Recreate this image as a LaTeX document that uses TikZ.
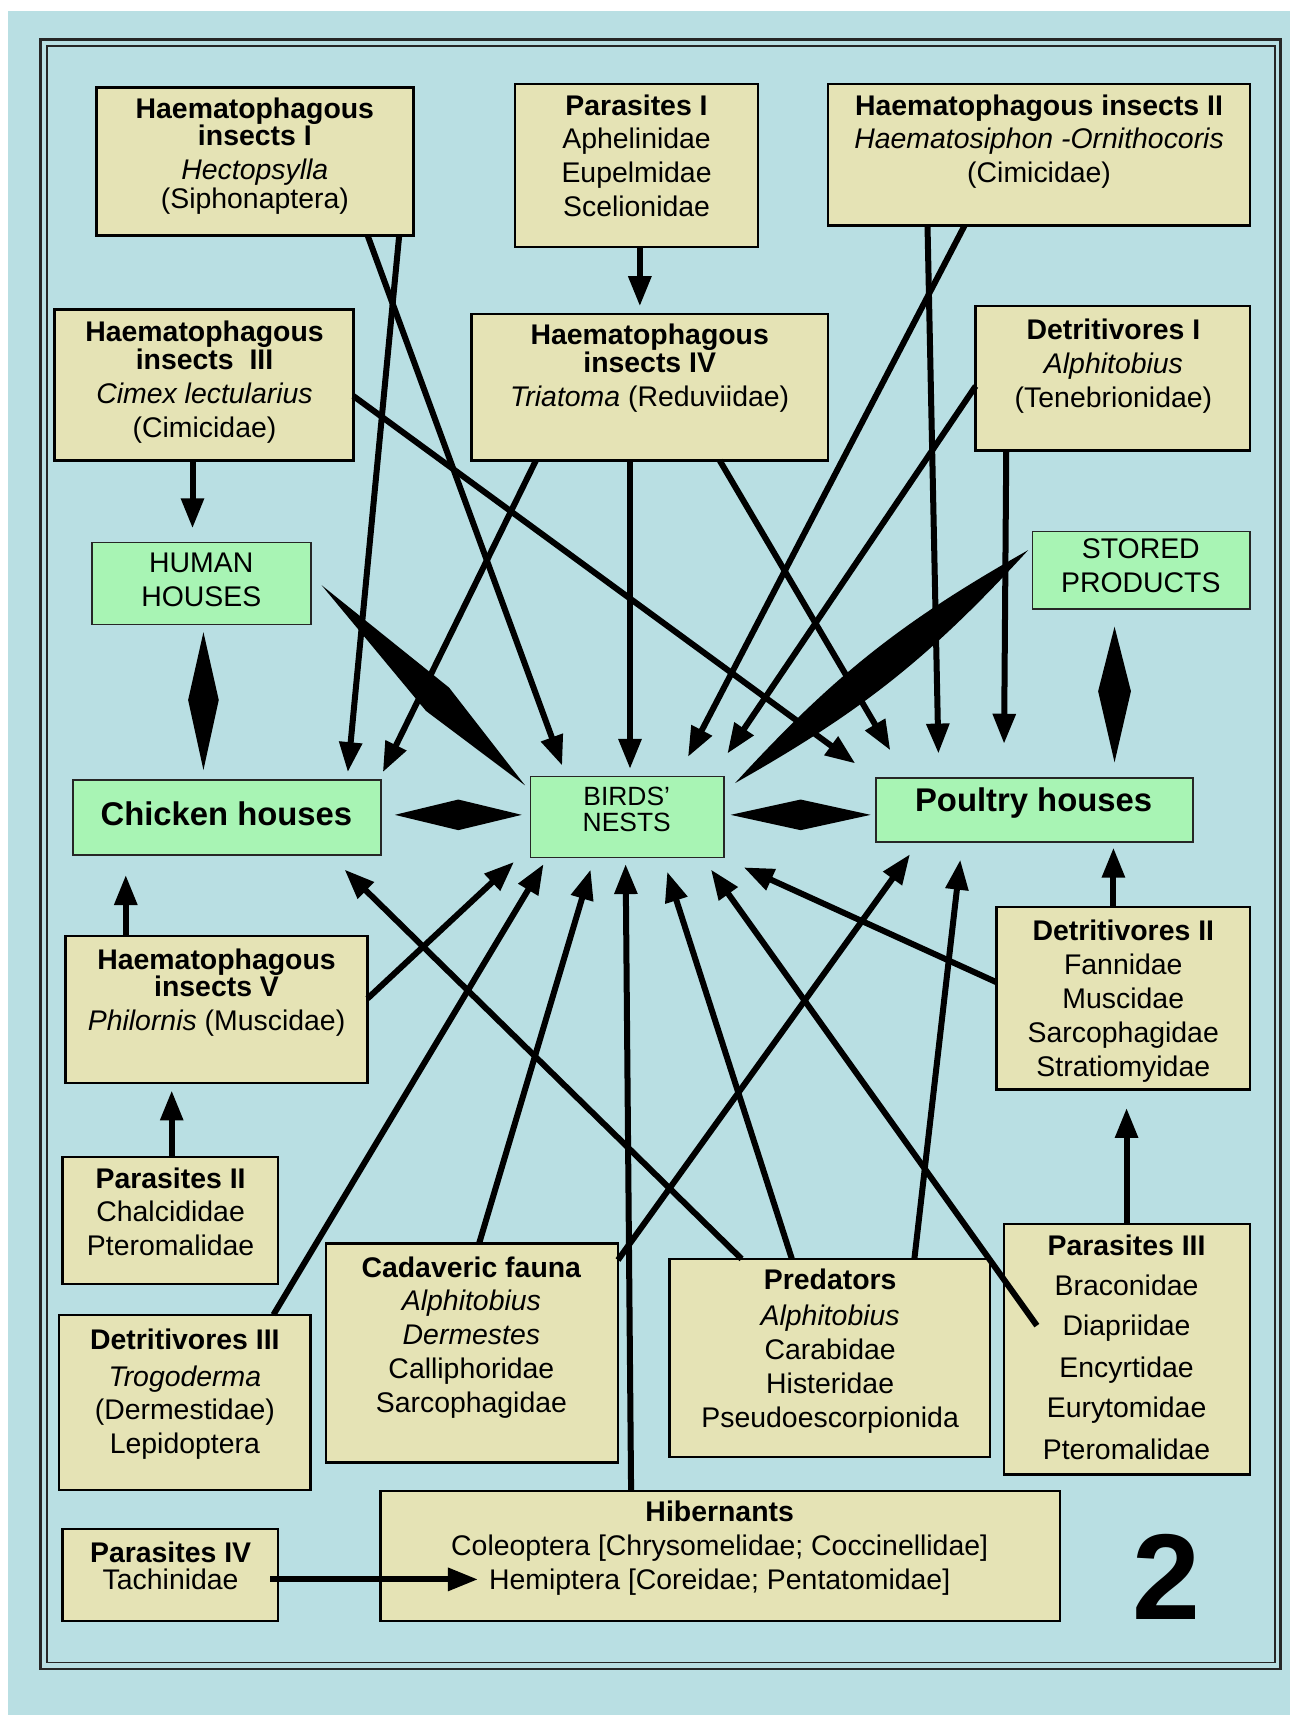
\documentclass[tikz,border=0pt]{standalone}
\usepackage{fontspec}
\setmainfont{Liberation Sans}
\usetikzlibrary{arrows.meta,calc}
\newdimen\pxu \pxu=0.54665pt
\definecolor{bgblue}{RGB}{185,223,227}
\definecolor{boxtan}{RGB}{229,227,181}
\definecolor{boxgreen}{RGB}{168,244,180}
\newcommand\mkbox[6]{\node[#6, minimum width={(#4-#2)*\pxu}, minimum height={(#5-#3)*\pxu}] (#1) at ({(#2+#4)/2},{(#3+#5)/2}) {};}
\begin{document}
\begin{tikzpicture}[x=0.54665pt,y=-0.54665pt,
  tbox/.style={draw=black, line width=1.2pt, fill=boxtan, inner sep=0pt, outer sep=0pt},
  gbox/.style={draw=black!85, line width=0.9pt, fill=boxgreen, inner sep=0pt, outer sep=0pt},
  txt/.style={anchor=north, align=center, inner sep=0pt, font=\fontsize{14.2pt}{16.95pt}\selectfont},
  conn/.style={line width=3pt, -{Triangle[length=15pt,width=11pt]}},
  spin/.style={fill=black}]
\useasboundingbox (0,0) rectangle (1179,1568);
\fill[white] (0,0) rectangle (1179,1568);
\fill[bgblue] (7,10) rectangle (1179,1568);
\draw[line width=1.4pt, black!85] (37,36) rectangle (1171,1526);
\draw[line width=0.9pt, black!85] (43,42) rectangle (1166,1520);

% boxes
\mkbox{hI}{88}{80}{378}{215}{tbox,line width=1.6pt}
\mkbox{pI}{471}{77}{693}{226}{tbox}
\mkbox{hII}{757}{77}{1143}{206}{tbox}
\mkbox{hIII}{50}{283}{323}{421}{tbox,line width=1.6pt}
\mkbox{hIV}{431}{287}{757}{421}{tbox}
\mkbox{dI}{892}{280}{1143}{412}{tbox}
\mkbox{HH}{84}{496}{284}{571}{gbox}
\mkbox{SP}{944}{486}{1143}{557}{gbox}
\mkbox{CH}{67}{713}{348}{782}{gbox}
\mkbox{BN}{485}{710}{662}{784}{gbox}
\mkbox{PH}{801}{711}{1091}{770}{gbox}
\mkbox{hV}{60}{856}{336}{990}{tbox}
\mkbox{dII}{911}{829}{1143}{996}{tbox}
\mkbox{pII}{57}{1058}{254}{1174}{tbox}
\mkbox{dIII}{54}{1202}{284}{1362}{tbox}
\mkbox{cf}{298}{1137}{565}{1337}{tbox}
\mkbox{pr}{612}{1151}{905}{1332}{tbox}
\mkbox{pIII}{918}{1119}{1143}{1348}{tbox}
\mkbox{hib}{348}{1363}{969}{1482}{tbox}
\mkbox{pIV}{57}{1398}{254}{1482}{tbox}

% texts
\node[txt] (hI-t) at (233,89) {\textbf{Haematophagous}\\[-6\pxu]\textbf{insects I}\\\textit{Hectopsylla}\\[-5\pxu](Siphonaptera)};
\node[txt] (pI-t) at (582,86) {\textbf{Parasites I}\\Aphelinidae\\Eupelmidae\\Scelionidae};
\node[txt] (hII-t) at (950,86) {\textbf{Haematophagous insects II}\\\textit{Haematosiphon -Ornithocoris}\\(Cimicidae)};
\node[txt] (hIII-t) at (187,293) {\textbf{Haematophagous}\\[-5\pxu]\textbf{insects\ \ III}\\\textit{Cimex lectularius}\\(Cimicidae)};
\node[txt] (hIV-t) at (594,296) {\textbf{Haematophagous}\\[-6\pxu]\textbf{insects IV}\\\textit{Triatoma} (Reduviidae)};
\node[txt] (dI-t) at (1018,291) {\textbf{Detritivores I}\\\textit{Alphitobius}\\(Tenebrionidae)};
\node[txt] (HH-t) at (184,505) {HUMAN\\HOUSES};
\node[txt] (SP-t) at (1043,492) {STORED\\PRODUCTS};
\node[txt, font=\bfseries\fontsize{16.4pt}{19pt}\selectfont] (CH-t) at (207,733) {Chicken houses};
\node[txt, font=\fontsize{13.2pt}{13.2pt}\selectfont] (BN-t) at (573,719) {BIRDS’\\NESTS};
\node[txt, font=\bfseries\fontsize{16.4pt}{19pt}\selectfont] (PH-t) at (945,720) {Poultry houses};
\node[txt] (hV-t) at (198,867) {\textbf{Haematophagous}\\[-6\pxu]\textbf{insects V}\\\textit{Philornis} (Muscidae)};
\node[txt] (dII-t) at (1027,841) {\textbf{Detritivores II}\\Fannidae\\Muscidae\\Sarcophagidae\\Stratiomyidae};
\node[txt] (pII-t) at (156,1067) {\textbf{Parasites II}\\Chalcididae\\Pteromalidae};
\node[txt] (dIII-t) at (169,1215) {\textbf{Detritivores III}\\[2\pxu]\textit{Trogoderma}\\(Dermestidae)\\Lepidoptera};
\node[txt] (cf-t) at (431,1149) {\textbf{Cadaveric fauna}\\[-1\pxu]\textit{Alphitobius}\\\textit{Dermestes}\\Calliphoridae\\Sarcophagidae};
\node[txt] (pr-t) at (759,1160) {\textbf{Predators}\\[2\pxu]\textit{Alphitobius}\\Carabidae\\Histeridae\\Pseudoescorpionida};
\node[txt] (pIII-t) at (1030,1129) {\textbf{Parasites III}\\[5\pxu]Braconidae\\[6\pxu]Diapriidae\\[7\pxu]Encyrtidae\\[6\pxu]Eurytomidae\\[7\pxu]Pteromalidae};
\node[txt] (hib-t) at (658,1372) {\textbf{Hibernants}\\Coleoptera [Chrysomelidae; Coccinellidae]\\Hemiptera [Coreidae; Pentatomidae]};
\node[txt] (pIV-t) at (156,1409) {\textbf{Parasites IV}\\[-6\pxu]Tachinidae};
\node[anchor=base, inner sep=0pt, font=\bfseries\fontsize{61pt}{61pt}\selectfont] (fig) at (1066,1481) {2};

% arrow tips (free ends)
\coordinate (ta) at (585,280);
\coordinate (tb) at (176,483);
\coordinate (tc) at (318,706);
\coordinate (td) at (514,700);
\coordinate (te) at (782,698);
\coordinate (tf) at (350,706);
\coordinate (tg) at (576,703);
\coordinate (th) at (814,686);
\coordinate (ti) at (858,689);
\coordinate (tj) at (629,692);
\coordinate (tk) at (665,689);
\coordinate (tl) at (918,680);
\coordinate (tm) at (470,788);
\coordinate (tn) at (497,790);
\coordinate (to) at (540,795);
\coordinate (tp) at (832,781);
\coordinate (tq) at (572,790);
\coordinate (tr) at (315,795);
\coordinate (ts) at (610,797);
\coordinate (tt) at (878,786);
\coordinate (tu) at (650,795);
\coordinate (tv) at (680,793);
\coordinate (tw) at (1018,775);
\coordinate (tx) at (1030,1013);
\coordinate (ty) at (115,800);
\coordinate (tz) at (157,997);
\coordinate (taa) at (437,1444);
\coordinate (su) at ($(pIII.west |- 0,1212)+(30,0)$);
\coordinate (saa) at ($(pIV.east |- 0,1444)+(-7,0)$);

% connectors
\draw[conn] (pI.south -| ta) -- (ta);
\draw[conn] (hIII.south -| tb) -- (tb);
\draw[conn] (hI.south -| 365,0) -- (tc);
\draw[conn] (hI.south -| 336,0) -- (td);
\draw[conn] (hIII.east |- 0,362) -- (te);
\draw[conn] (hIV.south -| 490,0) -- (tf);
\draw[conn] (hIV.south -| 576,0) -- (tg);
\draw[conn] (hIV.south -| 658,0) -- (th);
\draw[conn] (hII.south -| 848,0) -- (ti);
\draw[conn] (hII.south -| 882,0) -- (tj);
\draw[conn] (dI.west |- 0,353) -- (tk);
\draw[conn] (dI.south -| 920,0) -- (tl);
\draw[conn] (hV.east |- 0,913) -- (tm);
\draw[conn] (dIII.north -| 250,0) -- (tn);
\draw[conn] (cf.north -| 438,0) -- (to);
\draw[conn] (cf.east |- 0,1152) -- (tp);
\draw[conn] (hib.north -| 577,0) -- (tq);
\draw[conn] (pr.north -| 678,0) -- (tr);
\draw[conn] (pr.north -| 724,0) -- (ts);
\draw[conn] (pr.north -| 836,0) -- (tt);
\draw[conn] (su) -- (tu);
\draw[conn] (dII.west |- 0,898) -- (tv);
\draw[conn] (dII.north -| tw) -- (tw);
\draw[conn] (pIII.north -| tx) -- (tx);
\draw[conn] (hV.north -| ty) -- (ty);
\draw[conn] (pII.north -| tz) -- (tz);
\draw[conn] (saa) -- (taa);

% double-pointed spindles (two-way links)
\coordinate (dHa) at (186,578); \coordinate (dHb) at (186,704);
\fill[spin] (dHa) -- (200,640) -- (dHb) -- (172,640) -- cycle;
\coordinate (dSa) at (1019,573); \coordinate (dSb) at (1019,697);
\fill[spin] (dSa) -- (1034,632) -- (dSb) -- (1004,632) -- cycle;
\coordinate (dCa) at (361,745); \coordinate (dCb) at (477,745);
\fill[spin] (dCa) -- (419,731) -- (dCb) -- (419,759) -- cycle;
\coordinate (dPa) at (668,745); \coordinate (dPb) at (796,745);
\fill[spin] (dPa) -- (732,731) -- (dPb) -- (732,759) -- cycle;
\coordinate (sHa) at (294,535); \coordinate (sHb) at (480,718);
\fill[spin] (sHa) -- ($(sHa)!0.57!(sHb)!8.2pt!90:(sHb)$) -- (sHb) -- ($(sHa)!0.57!(sHb)!8.2pt!-90:(sHb)$) -- cycle;
\coordinate (sSa) at (940,503); \coordinate (sSb) at (672,716);
\fill[spin] (sSa) to[bend left=9] (sSb) to[bend left=9] (sSa) -- cycle;
\end{tikzpicture}
\end{document}
